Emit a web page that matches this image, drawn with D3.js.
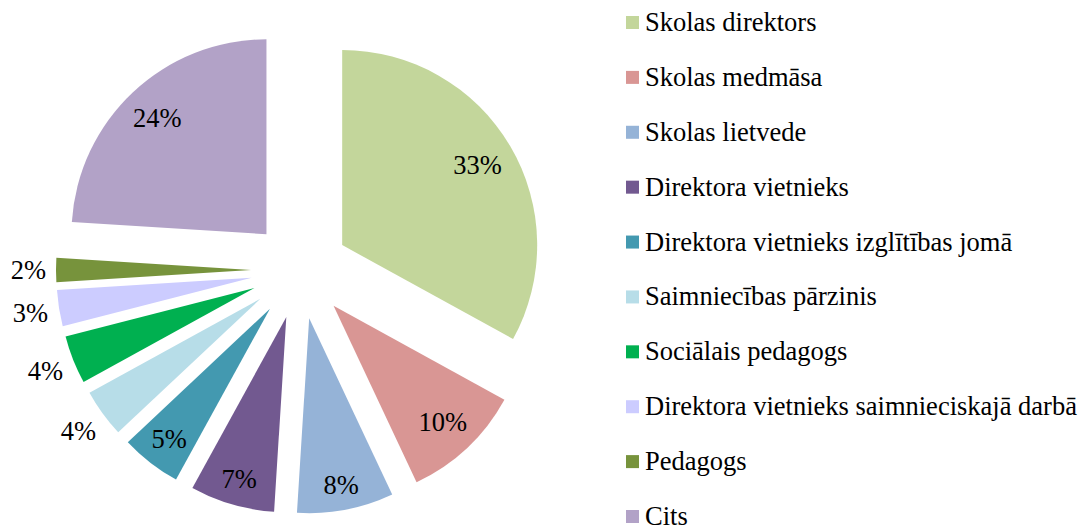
<!DOCTYPE html>
<html>
<head>
<meta charset="utf-8">
<script src="https://cdn.jsdelivr.net/npm/d3@7"></script>
<style>
	body { margin: 0; background: #fff; }
</style>
</head>
<body>
<div id="chart"></div>
<script>
var categories = ["Skolas direktors", "Skolas medmāsa", "Skolas lietvede",
	"Direktora vietnieks", "Direktora vietnieks izglītības jomā",
	"Saimniecības pārzinis", "Sociālais pedagogs",
	"Direktora vietnieks saimnieciskajā darbā", "Pedagogs", "Cits"
]
var values = [33, 10, 8, 7, 5, 4, 4, 3, 2, 24];
var colors = ["#C3D69B", "#D99694", "#95B3D7", "#725990", "#4399B0",
	"#B7DDE8", "#00B050", "#CCCCFF", "#77933C", "#B2A2C7"
];

const width = 1089;
const height = 527;
const cx = 300;
const cy = 270;
const radius = 195;
const explode = 49;
const fontSize = 26.5;
const fontFamily = "Liberation Serif";

const svg = d3.select("#chart").append("svg")
	.attr("width", width)
	.attr("height", height);

const pie = d3.pie()
	.sort(null)
	.value(d => d);

const arc = d3.arc()
	.innerRadius(0)
	.outerRadius(radius);

const arcs = pie(values);

function dir(d) {
	var a = (d.startAngle + d.endAngle) / 2;
	return [Math.sin(a), -Math.cos(a)];
}

const g = svg.append("g")
	.attr("transform", "translate(" + cx + "," + cy + ")");

g.selectAll(".slice")
	.data(arcs)
	.enter()
	.append("path")
	.attr("class", "slice")
	.attr("d", arc)
	.attr("fill", (d, i) => colors[i])
	.attr("transform", function(d) {
		var v = dir(d);
		return "translate(" + (v[0] * explode) + "," + (v[1] * explode) + ")";
	});

// labels: inside near the edge for big slices, outside for small ones
const labels = g.selectAll(".lbl")
	.data(arcs)
	.enter()
	.append("text")
	.attr("class", "lbl")
	.attr("text-anchor", "middle")
	.attr("dy", "0.34em")
	.attr("font-family", fontFamily)
	.attr("font-size", fontSize)
	.attr("fill", "#000")
	.text(d => d.data + "%");

labels.each(function(d) {
	var v = dir(d);
	var w = this.getComputedTextLength() / 2;
	var h = fontSize * 0.36;
	var proj = w * Math.abs(v[0]) + h * Math.abs(v[1]);
	var r = d.data >= 5 ? radius - 12 - proj : radius + 10 + proj;
	r += explode;
	d3.select(this)
		.attr("x", v[0] * r)
		.attr("y", v[1] * r);
});

// legend
const yLegend = d3.scalePoint()
	.domain(categories)
	.range([22.5, 516.5]);

const legend = svg.selectAll(".legend")
	.data(categories)
	.enter()
	.append("g")
	.attr("class", "legend")
	.attr("transform", d => "translate(626," + yLegend(d) + ")");

legend.append("rect")
	.attr("x", 0)
	.attr("y", -6.5)
	.attr("width", 13)
	.attr("height", 13)
	.attr("fill", (d, i) => colors[i]);

legend.append("text")
	.attr("x", 19)
	.attr("y", 8.5)
	.attr("font-family", fontFamily)
	.attr("font-size", fontSize)
	.attr("fill", "#000")
	.text(d => d);
</script>
</body>
</html>
